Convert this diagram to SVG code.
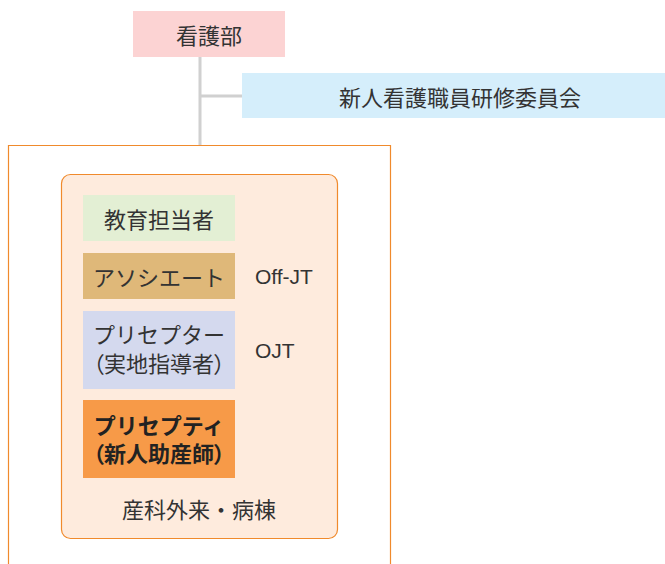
<svg xmlns="http://www.w3.org/2000/svg" width="665" height="564" viewBox="0 0 665 564">
<style>
.t{font-family:"Noto Sans CJK JP","Noto Sans",sans-serif;font-size:22px;fill:#333;text-anchor:middle;dominant-baseline:central}
.b{font-weight:bold;fill:#222}
.p{font-feature-settings:"palt"}
.l{font-family:"Liberation Sans",Arial,sans-serif;font-size:21px;fill:#333}
.c{stroke:#d0d0d0;stroke-width:3;fill:none}
</style>
<rect width="665" height="564" fill="#fff"/>
<g id="connectors">
<path class="c" d="M200 57V145M200 96H242"/>
</g>
<g id="kangobu">
<rect x="133" y="11" width="152" height="46" fill="#fcd3d3"/>
<text class="t" x="209" y="34">看護部</text>
</g>
<g id="committee">
<rect x="242" y="73" width="430" height="45" fill="#d5eefb"/>
<text class="t" x="460" y="96">新人看護職員研修委員会</text>
</g>
<g id="frame">
<path d="M8.5 570V145.5H390.5V570" fill="none" stroke="#f08a2c" stroke-width="1.2"/>
</g>
<g id="ward">
<rect x="61.5" y="174.5" width="276" height="364" rx="9" fill="#feebdd" stroke="#f08a2c" stroke-width="1.2"/>
<text class="t" x="199" y="508">産科外来・病棟</text>
</g>
<g id="kyouiku">
<rect x="83" y="195" width="152" height="46" fill="#e3efd4"/>
<text class="t" x="159" y="218">教育担当者</text>
</g>
<g id="associate">
<rect x="83" y="253" width="152" height="46" fill="#dfb879"/>
<text class="t" x="159" y="276">アソシエート</text>
<text class="l" x="255" y="284">Off-JT</text>
</g>
<g id="preceptor">
<rect x="83" y="311" width="152" height="78" fill="#d4d9ee"/>
<text class="t" x="159" y="333">プリセプター</text>
<text class="t p" x="159" y="362">（実地指導者）</text>
<text class="l" x="255" y="358">OJT</text>
</g>
<g id="preceptee">
<rect x="83" y="400" width="152" height="78" fill="#f79a48"/>
<text class="t b" x="159" y="424">プリセプティ</text>
<text class="t b p" x="159" y="452">（新人助産師）</text>
</g>
</svg>
